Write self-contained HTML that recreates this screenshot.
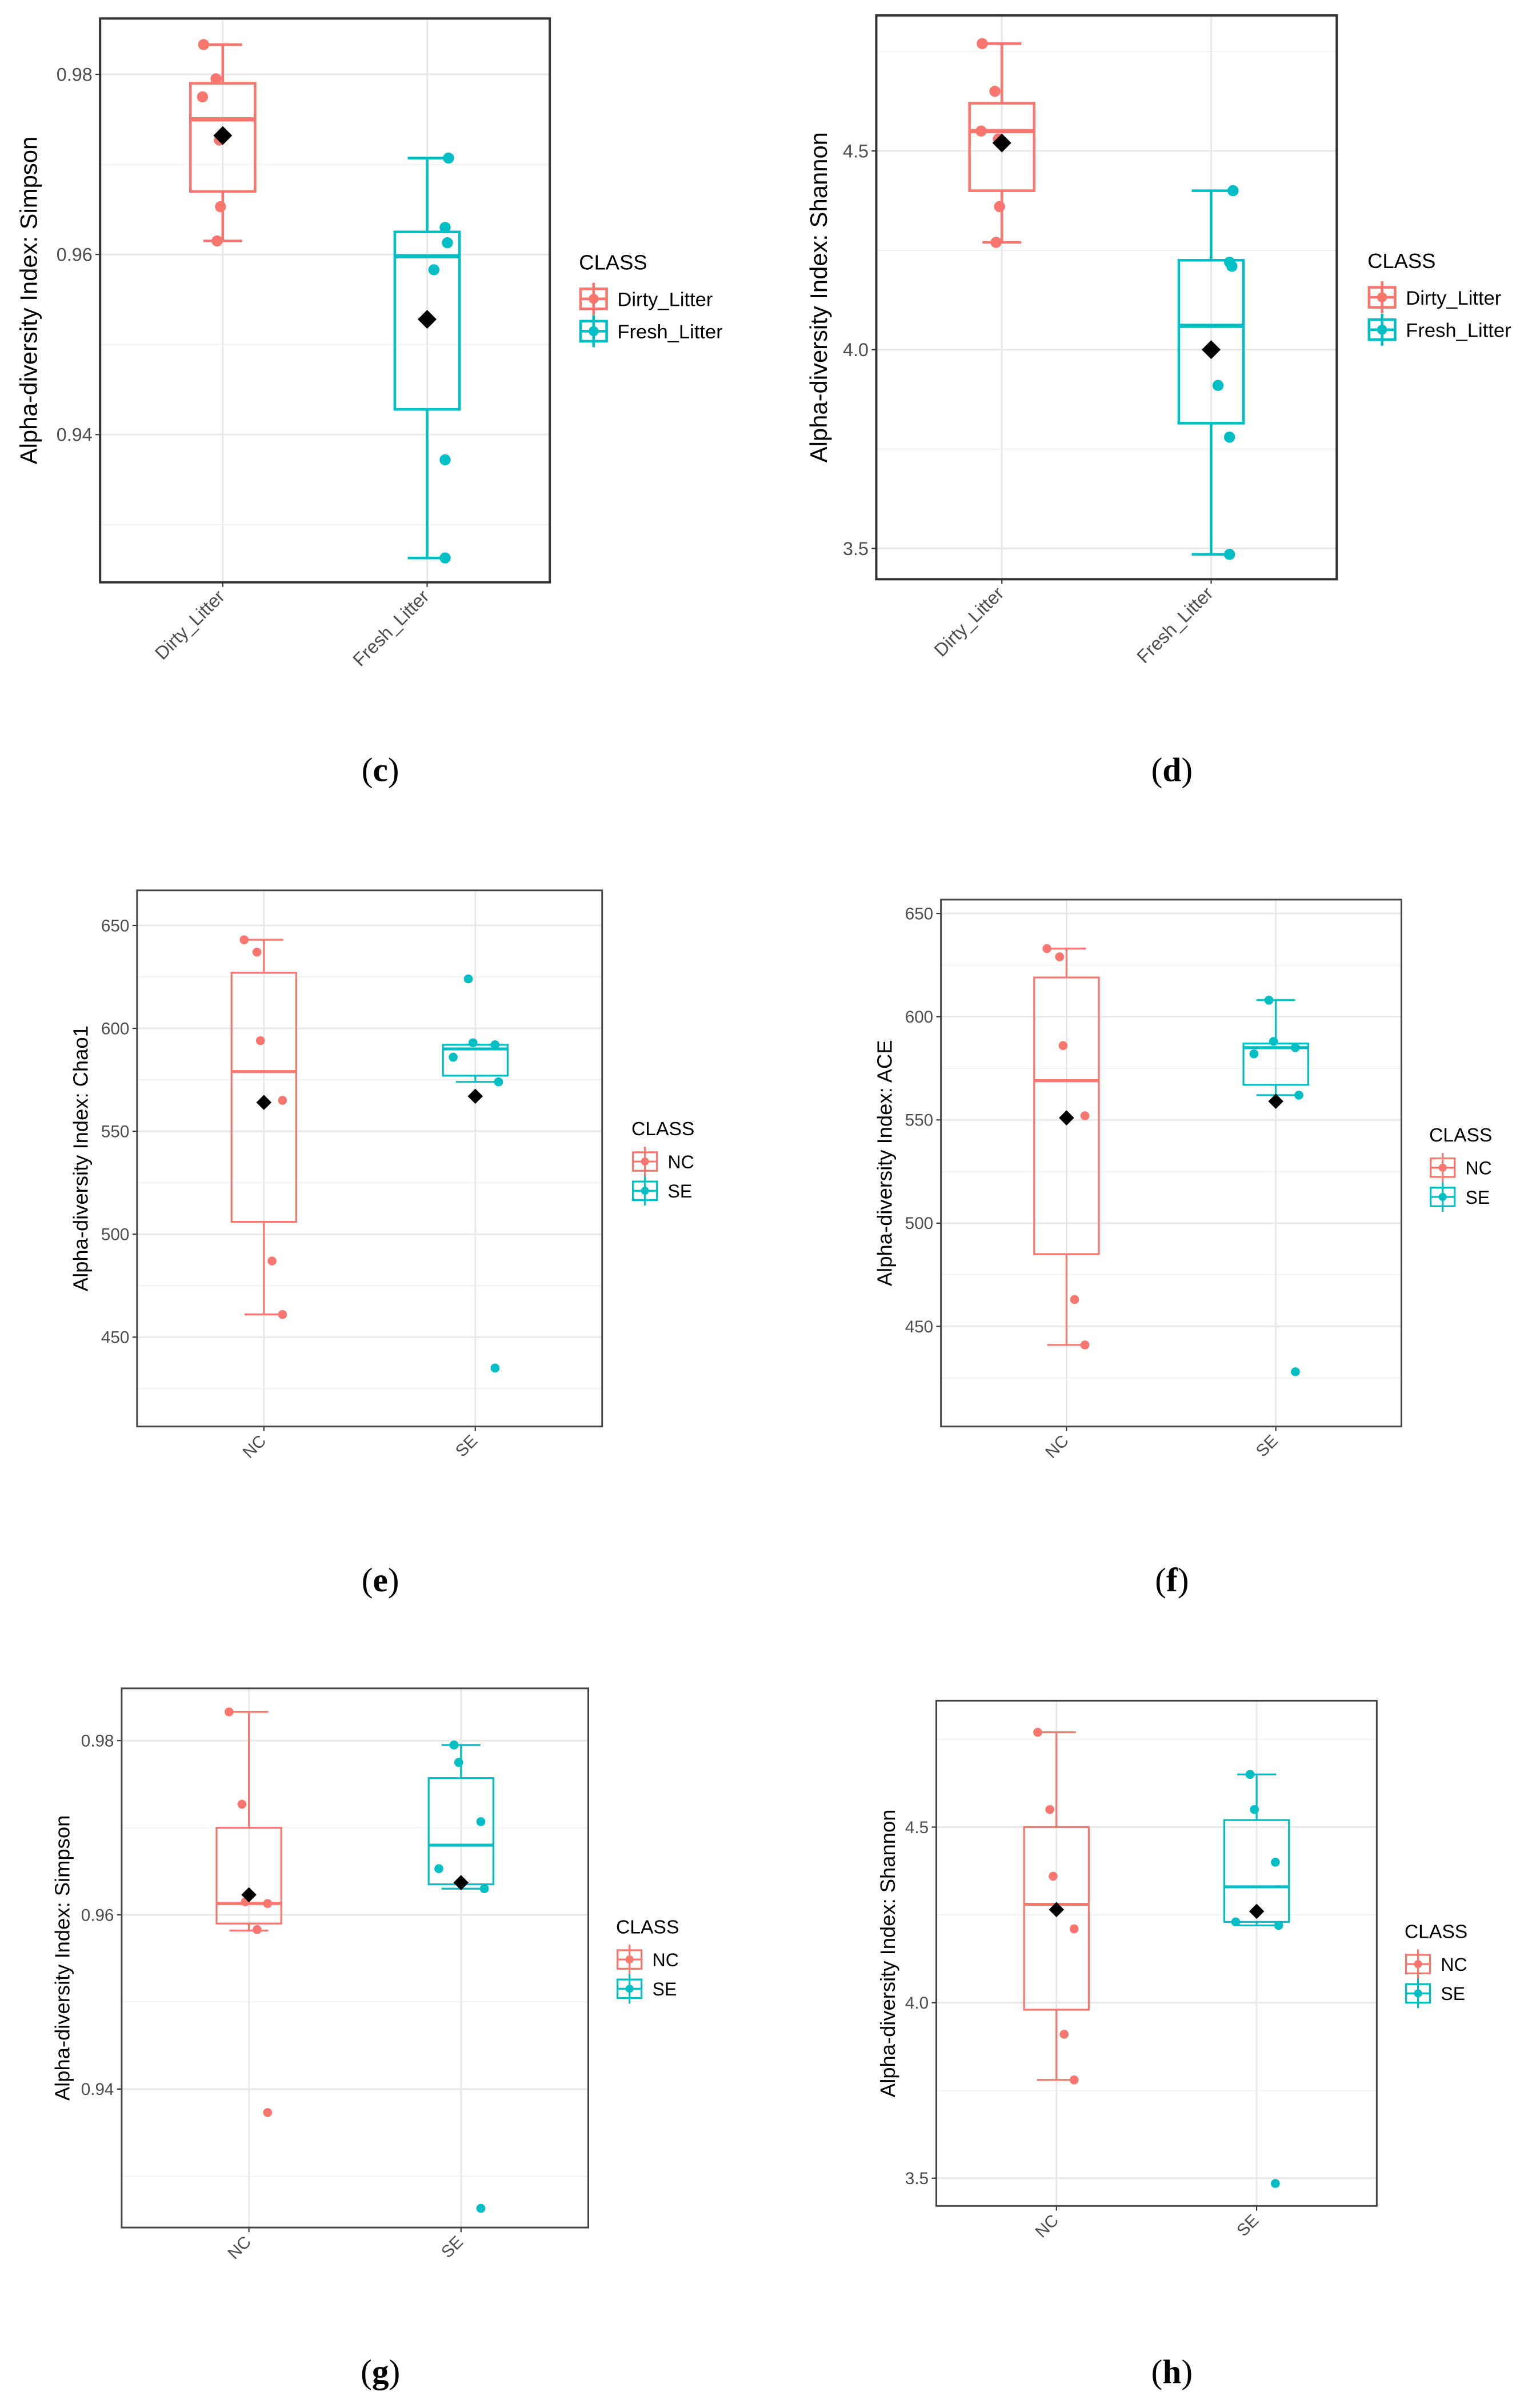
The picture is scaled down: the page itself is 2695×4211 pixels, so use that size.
<!DOCTYPE html>
<html><head><meta charset="utf-8">
<style>
html,body{margin:0;padding:0;background:#fff;}
svg{display:block;}
text{font-family:"Liberation Sans",sans-serif;}
.cap{font-family:"Liberation Serif",serif;}
</style></head>
<body>
<svg id="fig" xmlns="http://www.w3.org/2000/svg" width="2695" height="4211" viewBox="0 0 1000 1562.5" preserveAspectRatio="none"></svg>
<script>
// ---- data ----
const catsLitter = ["Dirty_Litter", "Fresh_Litter"];
const catsNCSE = ["NC", "SE"];
// box stats: [lowerWhisker, q1, median, q3, upperWhisker]
const cStats = [[0.9615, 0.967, 0.975, 0.979, 0.9833], [0.9263, 0.9428, 0.9598, 0.9625, 0.9707]];
const cMeans = [0.9732, 0.9528];
const cPoints = [[0.9833, 0.9795, 0.9775, 0.9727, 0.9653, 0.9615], [0.9707, 0.9630, 0.9613, 0.9583, 0.9372, 0.9263]];
const cTicks = [0.94, 0.96, 0.98];
const cTickLabels = ["0.94", "0.96", "0.98"];

const dStats = [[4.27, 4.40, 4.55, 4.62, 4.77], [3.485, 3.815, 4.06, 4.225, 4.40]];
const dMeans = [4.52, 4.00];
const dPoints = [[4.77, 4.65, 4.55, 4.53, 4.36, 4.27], [4.40, 4.22, 4.21, 3.91, 3.78, 3.485]];
const dTicks = [3.5, 4.0, 4.5];
const dTickLabels = ["3.5", "4.0", "4.5"];

const eStats = [[461, 506, 579, 627, 643], [574, 577, 590, 592, 592]];
const eMeans = [564, 567];
const ePoints = [[643, 637, 594, 565, 487, 461], [624, 593, 592, 586, 574, 435]];
const eTicks = [450, 500, 550, 600, 650];
const eTickLabels = ["450", "500", "550", "600", "650"];

const fStats = [[441, 485, 569, 619, 633], [562, 567, 585, 587, 608]];
const fMeans = [551, 559];
const fPoints = [[633, 629, 586, 552, 463, 441], [608, 588, 585, 582, 562, 428]];
const fTicks = [450, 500, 550, 600, 650];
const fTickLabels = ["450", "500", "550", "600", "650"];

const gStats = [[0.9582, 0.959, 0.9613, 0.970, 0.9833], [0.9630, 0.9635, 0.968, 0.9757, 0.9795]];
const gMeans = [0.9623, 0.9637];
const gPoints = [[0.9833, 0.9727, 0.9615, 0.9613, 0.9583, 0.9373], [0.9795, 0.9775, 0.9707, 0.9653, 0.9630, 0.9263]];
const gTicks = [0.94, 0.96, 0.98];
const gTickLabels = ["0.94", "0.96", "0.98"];

const hStats = [[3.78, 3.98, 4.28, 4.50, 4.77], [4.22, 4.23, 4.33, 4.52, 4.65]];
const hMeans = [4.265, 4.26];
const hPoints = [[4.77, 4.55, 4.36, 4.21, 3.91, 3.78], [4.65, 4.55, 4.40, 4.23, 4.22, 3.485]];
const hTicks = [3.5, 4.0, 4.5];
const hTickLabels = ["3.5", "4.0", "4.5"];

// jitter offsets in category-band units (not data)
const jitter = [[-0.17,-0.06,-0.18,-0.03,-0.02,-0.05],[0.19,0.16,0.18,0.06,0.16,0.16]];
const jitter2 = [[-0.17,-0.06,-0.03,0.16,0.07,0.16],[-0.06,-0.02,0.17,-0.19,0.20,0.17]];

const COLORS = ["#F8766D", "#00BFC4"];
const NS = "http://www.w3.org/2000/svg";
const svg = document.getElementById("fig");

function mk(tag, attrs, parent) {
  const el = document.createElementNS(NS, tag);
  for (const k in attrs) el.setAttribute(k, attrs[k]);
  (parent || svg).appendChild(el);
  return el;
}

function panel(cfg) {
  const g = mk("g", {});
  
  
  const [x0, y0, x1, y1] = cfg.box;
  const [lo, hi] = cfg.dom;
  const y = v => y1 - (v - lo) / (hi - lo) * (y1 - y0);
  const x = c => x0 + (c + 0.6) / 2.2 * (x1 - x0);
  const bw = cfg.bw;
  for (let i = 0; i < cfg.ticks.length + 1; i++) {
    const step = cfg.ticks[1] - cfg.ticks[0];
    const v = cfg.ticks[0] + step * (i - 0.5);
    if (v > lo && v < hi) {
      const l = mk("line", {x1: x0, x2: x1, y1: y(v), y2: y(v), stroke: "#f2f2f2", "stroke-width": 0.7}, g);
      
      
    }
  }
  cfg.ticks.forEach((v, i) => {
    const l = mk("line", {x1: x0, x2: x1, y1: y(v), y2: y(v), stroke: "#e8e8e8", "stroke-width": 1.1}, g);
    
    
    const tk = mk("line", {x1: x0 - 3, x2: x0, y1: y(v), y2: y(v), stroke: "#333", "stroke-width": 0.8}, g);
    
    
    const t = mk("text", {x: x0 - 5, y: y(v) + cfg.fs * 0.35, "text-anchor": "end", "font-size": cfg.fs, fill: "#4d4d4d"}, g);
    t.textContent = cfg.tickLabels[i];
    
    
  });
  cfg.cats.forEach((c, i) => {
    const l = mk("line", {x1: x(i), x2: x(i), y1: y0, y2: y1, stroke: "#e8e8e8", "stroke-width": 1.1}, g);
    
    
  });
  cfg.stats.forEach((s, i) => {
    const cx = x(i), col = COLORS[i];
    const sg = mk("g", {stroke: col, fill: "none", "stroke-width": cfg.lw}, g);
    
    
    const w1 = mk("line", {x1: cx, x2: cx, y1: y(s[0]), y2: y(s[1])}, sg);
    
    
    const w2 = mk("line", {x1: cx, x2: cx, y1: y(s[3]), y2: y(s[4])}, sg);
    
    
    const cw = bw * 0.3;
    const c1 = mk("line", {x1: cx - cw, x2: cx + cw, y1: y(s[0]), y2: y(s[0])}, sg);
    
    
    const c2 = mk("line", {x1: cx - cw, x2: cx + cw, y1: y(s[4]), y2: y(s[4])}, sg);
    
    
    const r = mk("rect", {x: cx - bw / 2, y: y(s[3]), width: bw, height: y(s[1]) - y(s[3])}, sg);
    
    
    const m = mk("line", {x1: cx - bw / 2, x2: cx + bw / 2, y1: y(s[2]), y2: y(s[2]), "stroke-width": cfg.lw * 1.6}, sg);
    
    
    cfg.points[i].forEach((v, j) => {
      const p = mk("circle", {cx: cx + cfg.jit[i][j] * (x1 - x0) / 2.2 * 0.55, cy: y(v), r: cfg.pr, fill: col, stroke: "none"}, g);
      
      
    });
    const my = y(cfg.means[i]), d = cfg.pr * 1.7;
    const dm = mk("polygon", {points: `${cx},${my - d} ${cx + d},${my} ${cx},${my + d} ${cx - d},${my}`, fill: "#000"}, g);
    
    
    const tk = mk("line", {x1: cx, x2: cx, y1: y1, y2: y1 + 3, stroke: "#333", "stroke-width": 0.8}, g);
    
    
    const t = mk("text", {x: cx + 2, y: y1 + 10, "text-anchor": "end", "font-size": cfg.fs, fill: "#4d4d4d", transform: `rotate(-45 ${cx + 2} ${y1 + 10})`}, g);
    t.textContent = cfg.cats[i];
    
    
  });
  const b = mk("rect", {x: x0, y: y0, width: x1 - x0, height: y1 - y0, fill: "none", stroke: cfg.border, "stroke-width": cfg.bwid}, g);
  
  
  const yt = mk("text", {x: cfg.ytx, y: (y0 + y1) / 2, "text-anchor": "middle", "font-size": cfg.tfs, fill: "#000", transform: `rotate(-90 ${cfg.ytx} ${(y0 + y1) / 2})`}, g);
  yt.textContent = cfg.ytitle;
  
  
  const lg = mk("g", {}, g);
  
  
  const [lx, ly] = cfg.leg;
  const lt = mk("text", {x: lx, y: ly + 5, "font-size": cfg.lfs, fill: "#000"}, lg);
  lt.textContent = "CLASS";
  
  
  cfg.cats.forEach((c, i) => {
    const ey = ly + cfg.lsp * (i + 1) + 3;
    const e = mk("g", {}, lg);
    
    
    const k = cfg.lk;
    mk("rect", {x: lx + 1, y: ey - k / 2, width: k * 1.3, height: k, fill: "none", stroke: COLORS[i], "stroke-width": cfg.lw}, e);
    mk("line", {x1: lx + 1 + k * 0.65, x2: lx + 1 + k * 0.65, y1: ey - k * 0.8, y2: ey + k * 0.8, stroke: COLORS[i], "stroke-width": cfg.lw}, e);
    mk("line", {x1: lx + 1, x2: lx + 1 + k * 1.3, y1: ey, y2: ey, stroke: COLORS[i], "stroke-width": cfg.lw}, e);
    mk("circle", {cx: lx + 1 + k * 0.65, cy: ey, r: cfg.pr * 0.9, fill: COLORS[i]}, e);
    const et = mk("text", {x: lx + k * 1.3 + 8, y: ey + cfg.lfs * 0.35, "font-size": cfg.lfs * 0.95, fill: "#000"}, e);
    et.textContent = c;
    
    
  });
  const cp = mk("text", {x: cfg.cap[0], y: cfg.cap[1] + 7, "text-anchor": "middle", "font-size": 22, fill: "#000", class: "cap"}, g);
  cp.innerHTML = '(<tspan font-weight="bold">' + cfg.id + '</tspan>)';
  
  
}

const big = {fs: 12, tfs: 15.5, lfs: 13.5, lsp: 21, lk: 13, lw: 1.7, pr: 3.6, bw: 42, border: "#333", bwid: 1.5};
const small = {fs: 11, tfs: 13.5, lfs: 12.5, lsp: 19, lk: 12, lw: 1.2, pr: 2.9, bw: 42, border: "#444", bwid: 1.1};

panel(Object.assign({}, big, {id: "c", box: [65, 12, 357, 378], dom: [0.9236, 0.9862], ticks: cTicks, tickLabels: cTickLabels, cats: catsLitter, stats: cStats, means: cMeans, points: cPoints, jit: jitter, ytx: 24, ytitle: "Alpha-diversity Index: Simpson", leg: [376, 170], cap: [247, 500]}));
panel(Object.assign({}, big, {id: "d", box: [569, 10, 868, 376], dom: [3.4225, 4.841], ticks: dTicks, tickLabels: dTickLabels, cats: catsLitter, stats: dStats, means: dMeans, points: dPoints, jit: jitter, ytx: 537, ytitle: "Alpha-diversity Index: Shannon", leg: [888, 169], cap: [761, 500]}));
panel(Object.assign({}, small, {id: "e", box: [89, 578, 391, 926], dom: [406.6, 667], ticks: eTicks, tickLabels: eTickLabels, cats: catsNCSE, stats: eStats, means: eMeans, points: ePoints, jit: jitter2, ytx: 57, ytitle: "Alpha-diversity Index: Chao1", leg: [410, 732], cap: [247, 1026]}));
panel(Object.assign({}, small, {id: "f", box: [611, 584, 910, 926], dom: [401.5, 656.7], ticks: fTicks, tickLabels: fTickLabels, cats: catsNCSE, stats: fStats, means: fMeans, points: fPoints, jit: jitter2, ytx: 579, ytitle: "Alpha-diversity Index: ACE", leg: [928, 736], cap: [761, 1026]}));
panel(Object.assign({}, small, {id: "g", box: [79, 1096, 382, 1446], dom: [0.9241, 0.986], ticks: gTicks, tickLabels: gTickLabels, cats: catsNCSE, stats: gStats, means: gMeans, points: gPoints, jit: jitter2, ytx: 45, ytitle: "Alpha-diversity Index: Simpson", leg: [400, 1250], cap: [247, 1540]}));
panel(Object.assign({}, small, {id: "h", box: [608, 1104, 894, 1432], dom: [3.421, 4.86], ticks: hTicks, tickLabels: hTickLabels, cats: catsNCSE, stats: hStats, means: hMeans, points: hPoints, jit: jitter2, ytx: 581, ytitle: "Alpha-diversity Index: Shannon", leg: [912, 1253], cap: [761, 1540]}));
</script>
</body></html>
